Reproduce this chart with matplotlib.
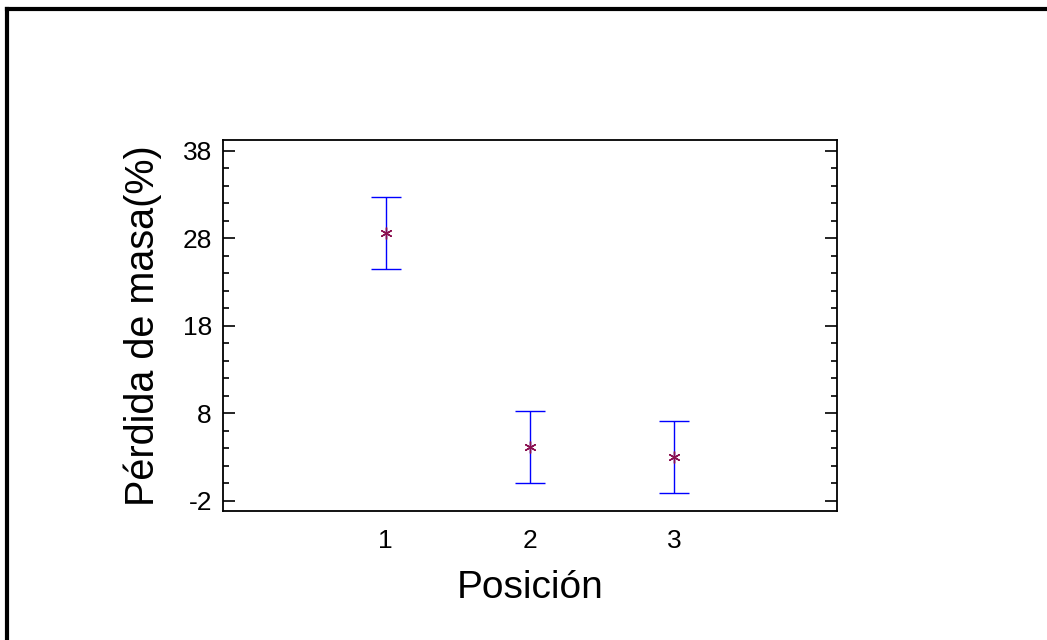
import matplotlib
matplotlib.use("Agg")
import matplotlib.pyplot as plt
from matplotlib.lines import Line2D
from matplotlib.ticker import FixedLocator

positions = [1, 2, 3]
means = [28.6, 4.15, 3.0]
lower = [24.5, 0.05, -1.15]
upper = [32.7, 8.2, 7.15]
yticks = [-2, 8, 18, 28, 38]
xlabel = "Posición"
ylabel = "Pérdida de masa(%)"

plt.rcParams['font.family'] = ['Liberation Sans', 'DejaVu Sans']

fig = plt.figure(figsize=(10.47, 6.4), dpi=100)
ax = fig.add_axes([223/1047, 1-511/640, (837-223)/1047, (511-140)/640])

yerr = [[m - l for m, l in zip(means, lower)], [u - m for m, u in zip(means, upper)]]
ax.errorbar(positions, means, yerr=yerr, fmt='none', ecolor='#0000ff',
            elinewidth=1.0, capsize=10.8, capthick=1.0, zorder=2)
ax.plot(positions, means, linestyle='none', marker=(6, 2, 0), markersize=8.5,
        markeredgecolor='#8b1050', markerfacecolor='#8b1050', markeredgewidth=1.0, zorder=3)

ax.set_xlim(-0.125, 4.125)
ax.set_ylim(-3.18, 39.22)
ax.set_xticks(positions)
ax.set_xticklabels([str(p) for p in positions])
ax.yaxis.set_major_locator(FixedLocator(yticks))
ax.set_yticklabels([str(t) for t in yticks])
ax.yaxis.set_minor_locator(FixedLocator([v for v in range(-2, 39, 2) if v not in yticks]))

ax.tick_params(axis='y', which='both', direction='in', left=True, right=True,
               labelsize=19, width=1.2, pad=8)
ax.tick_params(axis='y', which='major', length=8.6)
ax.tick_params(axis='y', which='minor', length=4.5)
ax.tick_params(axis='x', which='both', length=0, labelsize=19, pad=13)
for s in ax.spines.values():
    s.set_linewidth(1.3)

ax.set_xlabel(xlabel, fontsize=28, labelpad=12)
ax.set_ylabel(ylabel, fontsize=28.5, labelpad=15)

# figure border (top and left visible)
fig.add_artist(Line2D([7/1047, 1.0], [1-9/640, 1-9/640], color='black', linewidth=3, transform=fig.transFigure))
fig.add_artist(Line2D([7/1047, 7/1047], [0.0, 1-9/640], color='black', linewidth=3, transform=fig.transFigure))

fig.savefig("out.png", dpi=100)
